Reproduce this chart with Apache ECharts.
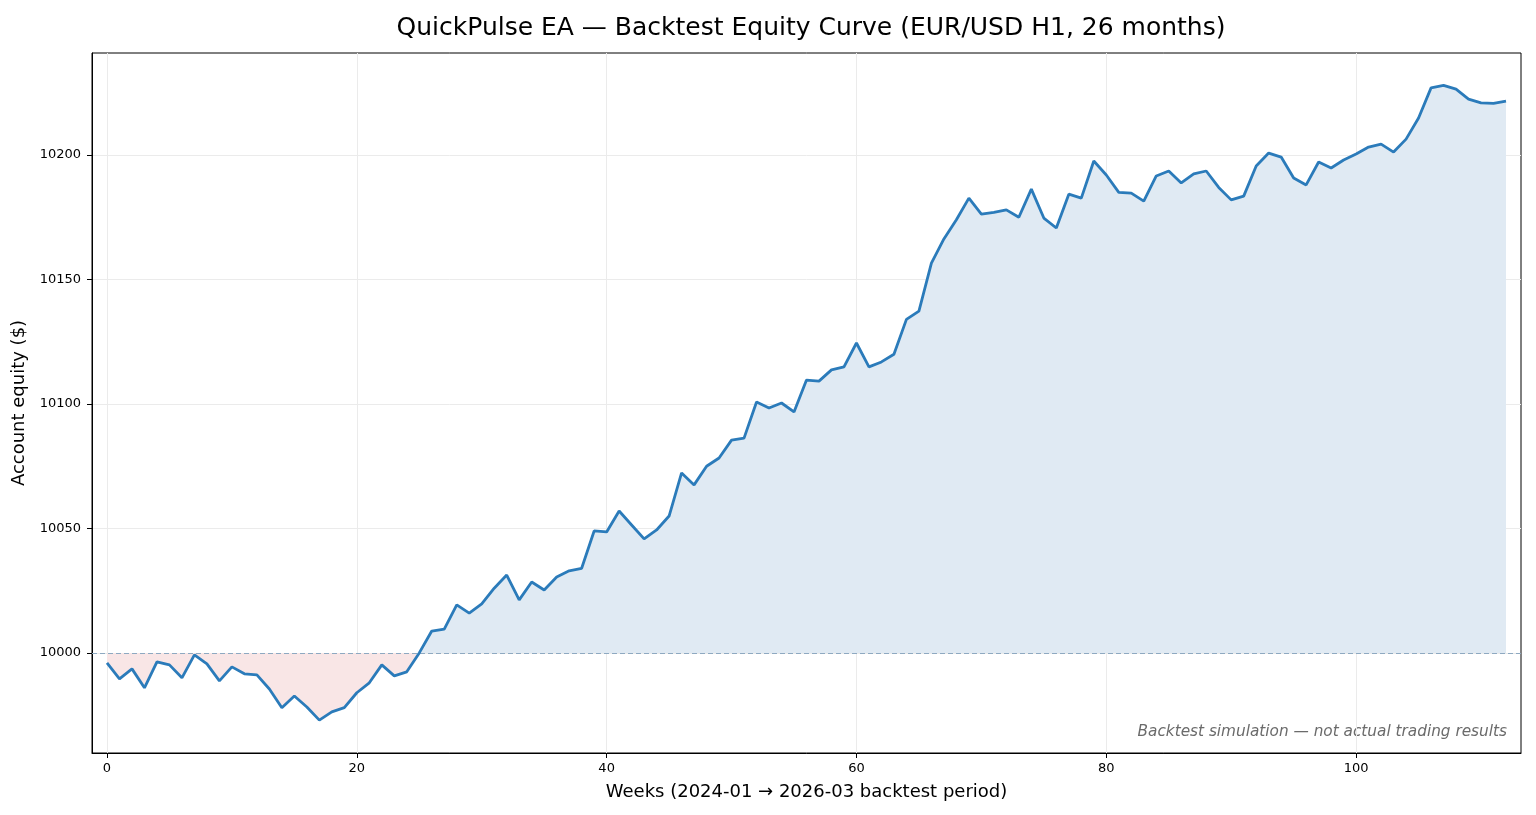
<!DOCTYPE html>
<html>
<head>
<meta charset="utf-8">
<title>QuickPulse EA backtest</title>
<script src="https://cdn.jsdelivr.net/npm/echarts@6/dist/echarts.min.js"></script>
<style>
  html, body { margin: 0; padding: 0; background: #fff; }
  #chart { width: 1536px; height: 815px; }
</style>
</head>
<body>
<div id="chart"></div>
<script>
// weekly account equity (week 0 .. 112)
const equity = [
  9996, 9989.6, 9993.6, 9986, 9996.4, 9995.2, 9990, 9999.2, 9995.6, 9988.8,
  9994.4, 9991.6, 9991.2, 9985.5, 9978, 9982.7, 9978.3, 9973, 9976.3, 9978,
  9984, 9988, 9995.2, 9990.8, 9992.4, 10000, 10008.8, 10009.6, 10019.3, 10016,
  10019.7, 10026, 10031.3, 10021.3, 10028.5, 10025.3, 10030.5, 10033, 10034, 10049,
  10048.6, 10057, 10051.4, 10045.8, 10049.4, 10055, 10072.3, 10067.5, 10075, 10078.3,
  10085.5, 10086.3, 10100.8, 10098.4, 10100.4, 10096.8, 10109.6, 10109.2, 10113.7, 10114.9,
  10124.5, 10114.9, 10116.9, 10120, 10134, 10137.3, 10156.6, 10166.3, 10174, 10182.7,
  10176.3, 10177, 10178, 10175, 10186.3, 10174.7, 10170.7, 10184.3, 10182.7, 10197.6,
  10192, 10185, 10184.7, 10181.5, 10191.6, 10193.6, 10188.8, 10192.4, 10193.6, 10187,
  10182, 10183.5, 10195.6, 10200.8, 10199.2, 10190.8, 10188, 10197.2, 10194.8, 10198,
  10200.4, 10203.2, 10204.4, 10201.2, 10206.4, 10214.9, 10227, 10228, 10226.5, 10222.5,
  10221, 10220.8, 10221.7
];
const baseline = 10000;
const xTicks = [0, 20, 40, 60, 80, 100];
const yTicks = [10000, 10050, 10100, 10150, 10200];

const FONT = 'DejaVu Sans';
const lineColor = '#2b7bba';

const linePts = equity.map((v, i) => [i, v]);
const abovePts = equity.map((v, i) => [i, Math.max(v, baseline)]);
const belowPts = equity.map((v, i) => [i, Math.min(v, baseline)]);

const chart = echarts.init(document.getElementById('chart'));

const axisCommon = {
  axisLine: { show: true, onZero: false, lineStyle: { color: '#000', width: 1 } },
  axisLabel: { color: '#000', fontFamily: FONT, fontSize: 13, formatter: v => String(v) },
  splitLine: { show: true, lineStyle: { color: '#ebebeb', width: 1 } },
  nameTextStyle: { color: '#000', fontFamily: FONT, fontSize: 18 }
};

const option = {
  backgroundColor: '#fff',
  animation: false,
  title: {
    text: 'QuickPulse EA — Backtest Equity Curve (EUR/USD H1, 26 months)',
    left: 806, top: 11, textAlign: 'center',
    textStyle: { fontFamily: FONT, fontSize: 25, fontWeight: 'normal', color: '#000' }
  },
  grid: {
    left: 92, right: 15, top: 53, bottom: 62,
    outerBoundsMode: 'none',
    show: true, borderColor: '#000', borderWidth: 1, backgroundColor: 'transparent'
  },
  xAxis: {
    type: 'value', min: -1.2, max: 113.2,
    name: 'Weeks (2024-01 → 2026-03 backtest period)',
    nameLocation: 'middle', nameGap: 30,
    ...axisCommon,
    axisTick: { show: true, length: 5, customValues: xTicks, lineStyle: { color: '#000' } },
    axisLabel: { ...axisCommon.axisLabel, margin: 9, customValues: xTicks }
  },
  yAxis: {
    type: 'value', min: 9959.8, max: 10241,
    name: 'Account equity ($)',
    nameLocation: 'middle', nameGap: 61, nameRotate: 90,
    ...axisCommon,
    axisTick: { show: true, length: 5, customValues: yTicks, lineStyle: { color: '#000' } },
    axisLabel: { ...axisCommon.axisLabel, margin: 11, customValues: yTicks }
  },
  graphic: [{
    type: 'text', right: 29, top: 725,
    style: {
      text: 'Backtest simulation — not actual trading results',
      font: 'italic 15.3px "DejaVu Sans"', fill: '#6b6b6b'
    }
  }],
  series: [
    {
      name: 'below', type: 'line', data: belowPts, symbol: 'none', silent: true,
      lineStyle: { width: 0, opacity: 0 },
      areaStyle: { origin: baseline, color: '#f9e6e6', opacity: 1 }
    },
    {
      name: 'above', type: 'line', data: abovePts, symbol: 'none', silent: true,
      lineStyle: { width: 0, opacity: 0 },
      areaStyle: { origin: baseline, color: '#e0eaf3', opacity: 1 }
    },
    {
      name: 'equity', type: 'line', data: linePts, symbol: 'none',
      lineStyle: { color: lineColor, width: 2.8 },
      markLine: {
        silent: true, symbol: 'none', label: { show: false },
        lineStyle: { color: '#8ea9c1', type: [5, 3], width: 1 },
        data: [{ yAxis: baseline }]
      },
      z: 5
    }
  ]
};

chart.setOption(option);
</script>
</body>
</html>
